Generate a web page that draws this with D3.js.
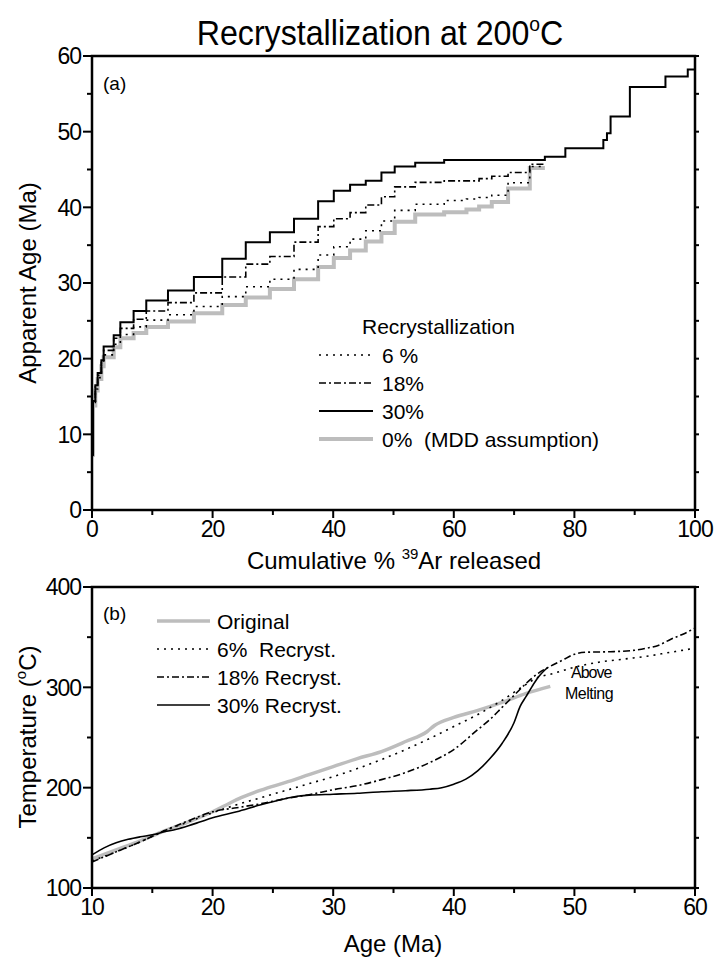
<!DOCTYPE html>
<html>
<head>
<meta charset="utf-8">
<script src="https://cdn.jsdelivr.net/npm/d3@7/dist/d3.min.js"></script>
<style>
  body { margin: 0; background: #fff; }
  svg text { font-family: "Liberation Sans", Arial, sans-serif; fill: #000; white-space: pre; }
</style>
</head>
<body>
<div id="chart-container"></div>
<script>
/**************************************************
 * Data
 **************************************************/

// (a) step boundaries, cumulative % 39Ar
const stepEdges = [0, 0.17, 0.55, 0.94, 1.55, 1.93, 3.6, 4.7, 6.9, 9.0, 12.6, 16.9, 21.6, 25.5,
  29.5, 33.5, 37.5, 40.1, 42.8, 45.4, 48.0, 50.2, 53.6, 58.4, 62.1, 64.2, 66.3, 69.0, 72.6, 75.1,
  78.5, 84.8, 85.4, 86.0, 89.2, 95.1, 98.8, 100];

// apparent age of each step (Ma)
const age30 = [7.3, 14.4, 16.5, 18.1, 19.8, 21.6, 23.1, 24.8, 26.3, 27.7, 29.0, 30.8, 33.2, 35.4,
  36.7, 38.5, 40.8, 42.2, 43.0, 43.5, 44.6, 45.4, 45.9, 46.25, 46.25, 46.25, 46.25, 46.25, 46.25,
  46.7, 47.8, 48.9, 49.8, 52.0, 55.9, 57.3, 58.2];
const age18 = [7.3, 14.2, 16.3, 17.8, 19.5, 21.1, 22.7, 24.0, 25.2, 26.3, 27.4, 28.7, 30.8, 32.5,
  33.5, 35.4, 37.45, 38.5, 39.3, 40.3, 41.4, 42.7, 43.3, 43.5, 43.5, 43.8, 44.1, 44.6, 45.7];
const age6 = [7.3, 14.0, 16.0, 17.5, 19.2, 20.5, 21.9, 23.2, 24.2, 25.1, 25.8, 26.9, 28.2, 29.5,
  30.5, 31.8, 33.7, 34.8, 35.8, 36.9, 38.2, 39.6, 40.4, 40.9, 41.1, 41.3, 41.6, 43.25, 45.4];
const age0 = [7.3, 13.8, 15.8, 17.3, 19.0, 20.2, 21.5, 22.7, 23.4, 24.2, 24.9, 26.0, 27.1, 28.1,
  29.2, 30.5, 32.1, 33.3, 34.3, 35.5, 36.6, 38.1, 39.05, 39.35, 39.7, 40.1, 40.7, 42.5, 45.2];

const legendA = ["6 %", "18%", "30%", "0%  (MDD assumption)"];
const ticksA_x = [0, 20, 40, 60, 80, 100];
const ticksA_y = [0, 10, 20, 30, 40, 50, 60];

// (b) temperature histories [age Ma, T °C]
const tOriginal = [[10, 129], [12, 138], [14, 147], [16, 157], [18, 166], [20, 176], [21, 182],
  [22, 188], [23, 193], [24, 197.5], [26, 205], [28, 213], [30, 221], [32, 229], [34, 236],
  [36, 246], [37.8, 256], [38.4, 262], [40, 270], [42, 277], [44, 285], [46, 294], [48, 301]];
const t6 = [[10, 127], [12, 136], [14, 146], [16, 157], [18, 166], [20, 175], [22, 183], [24, 190],
  [26, 197], [28, 204], [30, 211], [32, 219], [34, 228], [36, 238], [38, 249], [40, 261], [42, 273],
  [44, 287], [46, 303], [47, 310], [48, 313], [50, 320], [52, 325], [54, 328], [56, 331], [58, 335],
  [60, 339]];
const t18 = [[10, 126], [12, 136], [14, 146], [16, 157], [18, 167], [20, 176], [22, 180], [24, 184],
  [26, 189], [28, 193], [30, 198], [32, 202], [34, 208], [36, 215], [38, 225], [40, 238], [42, 258],
  [43, 268], [44, 280], [45, 292], [46, 304], [47, 314], [48, 321], [49, 327], [50, 333], [51, 335],
  [53, 335.5], [55, 337], [56, 339], [57, 342], [58, 348], [59, 353], [60, 359]];
const t30 = [[10, 133], [11, 140], [12, 145], [13, 148.5], [14, 151], [15, 153], [16, 156],
  [17, 158.5], [18, 162], [19, 166], [20, 170], [22, 176], [24, 183], [26, 189], [27, 191.5],
  [28, 192.5], [30, 193.5], [32, 194.5], [34, 196], [36, 197], [38, 198.5], [39, 200], [40, 203.5],
  [41, 208.5], [42, 217], [43, 229], [44, 244], [45, 265], [45.5, 281], [46, 291], [46.5, 301],
  [47, 310], [47.8, 320]];

const legendB = ["Original", "6%  Recryst.", "18% Recryst.", "30% Recryst."];
const ticksB_x = [10, 20, 30, 40, 50, 60];
const ticksB_y = [100, 200, 300, 400];

/**************************************************
 * Styles
 **************************************************/

const styles = {
  gray:   { stroke: "#bdbdbd", width: 4,   dash: null },
  dotted: { stroke: "#000",    width: 1.6, dash: "2,5" },
  dashed: { stroke: "#000",    width: 1.6, dash: "7,3,2,3" },
  solid:  { stroke: "#000",    width: 2,   dash: null }
};

/**************************************************
 * Rendering
 **************************************************/

const W = 717, H = 968;
const svg = d3.select("#chart-container").append("svg")
  .attr("width", W).attr("height", H);

// title (slightly condensed like the original face)
const title = svg.append("text")
  .attr("transform", "translate(380,45) scale(0.92,1)")
  .attr("text-anchor", "middle")
  .attr("font-size", "35px");
title.append("tspan").text("Recrystallization at 200");
title.append("tspan").attr("font-size", "21px").attr("dy", -14).text("o");
title.append("tspan").attr("dy", 14).text("C");

function drawFrame(g, x, y, xTicks, yTicks, xMinor, yMinor) {
  const [x0, x1] = x.range();
  const [y0, y1] = y.range();
  yMinor.forEach(v => {
    g.append("line").attr("x1", x0).attr("x2", x0 - 5).attr("y1", y(v)).attr("y2", y(v))
      .attr("stroke", "#000").attr("stroke-width", 2);
    g.append("line").attr("x1", x1).attr("x2", x1 + 4).attr("y1", y(v)).attr("y2", y(v))
      .attr("stroke", "#000").attr("stroke-width", 2);
  });
  yTicks.forEach(v => {
    g.append("line").attr("x1", x0).attr("x2", x0 - 9).attr("y1", y(v)).attr("y2", y(v))
      .attr("stroke", "#000").attr("stroke-width", 2);
    g.append("line").attr("x1", x1).attr("x2", x1 + 4).attr("y1", y(v)).attr("y2", y(v))
      .attr("stroke", "#000").attr("stroke-width", 2);
    g.append("text").attr("x", x0 - 11).attr("y", y(v)).attr("dy", "0.36em")
      .attr("text-anchor", "end").attr("font-size", "23px").attr("letter-spacing", "-1px").text(v);
  });
  xMinor.forEach(v => {
    g.append("line").attr("x1", x(v)).attr("x2", x(v)).attr("y1", y0).attr("y2", y0 + 5)
      .attr("stroke", "#000").attr("stroke-width", 2);
  });
  xTicks.forEach(v => {
    g.append("line").attr("x1", x(v)).attr("x2", x(v)).attr("y1", y0).attr("y2", y0 + 8)
      .attr("stroke", "#000").attr("stroke-width", 2);
    g.append("text").attr("x", x(v)).attr("y", y0 + 27)
      .attr("text-anchor", "middle").attr("font-size", "23px").attr("letter-spacing", "-1px").text(v);
  });
  g.append("rect").attr("x", x0).attr("y", y1).attr("width", x1 - x0).attr("height", y0 - y1)
    .attr("fill", "none").attr("stroke", "#000").attr("stroke-width", 2.5);
}

function applyStyle(sel, s) {
  sel.attr("fill", "none").attr("stroke", s.stroke).attr("stroke-width", s.width);
  if (s.dash) sel.attr("stroke-dasharray", s.dash);
  return sel;
}

/* ---------- panel (a) ---------- */
const xa = d3.scaleLinear().domain([0, 100]).range([92, 695]);
const ya = d3.scaleLinear().domain([0, 60]).range([510, 56]);
const ga = svg.append("g");

function stepPoints(ages) {
  const pts = ages.map((a, i) => [stepEdges[i], a]);
  pts.push([stepEdges[ages.length], ages[ages.length - 1]]);
  return pts;
}
const stepLine = d3.line().x(d => xa(d[0])).y(d => ya(d[1])).curve(d3.curveStepAfter);

[[age0, styles.gray], [age6, styles.dotted], [age18, styles.dashed], [age30, styles.solid]]
  .forEach(([ages, s]) => {
    applyStyle(ga.append("path").attr("d", stepLine(stepPoints(ages))), s);
  });

drawFrame(ga, xa, ya, ticksA_x, ticksA_y,
  d3.range(10, 100, 20), d3.range(5, 60, 10));

ga.append("text").attr("x", 103).attr("y", 90).attr("font-size", "19px").text("(a)");

// legend (a)
ga.append("text").attr("x", 362).attr("y", 334).attr("font-size", "21px").text("Recrystallization");
const legA = [styles.dotted, styles.dashed, styles.solid, styles.gray];
legendA.forEach((d, i) => {
  const yy = 355 + i * 28;
  applyStyle(ga.append("line").attr("x1", 319).attr("x2", 373).attr("y1", yy).attr("y2", yy), legA[i]);
  ga.append("text").attr("x", 382).attr("y", yy).attr("dy", "0.36em").attr("font-size", "21px").text(d);
});

// x label (a)
const xla = ga.append("text").attr("x", 394).attr("y", 569)
  .attr("text-anchor", "middle").attr("font-size", "24px");
xla.append("tspan").text("Cumulative % ");
xla.append("tspan").attr("font-size", "15px").attr("dy", -10).text("39");
xla.append("tspan").attr("dy", 10).text("Ar released");

ga.append("text").attr("transform", "translate(36,283) rotate(-90)")
  .attr("text-anchor", "middle").attr("font-size", "24px").text("Apparent Age (Ma)");

/* ---------- panel (b) ---------- */
const xb = d3.scaleLinear().domain([10, 60]).range([92, 695]);
const yb = d3.scaleLinear().domain([100, 400]).range([888, 587]);
const gb = svg.append("g");

const smooth = d3.line().x(d => xb(d[0])).y(d => yb(d[1])).curve(d3.curveMonotoneX);

[[tOriginal, styles.gray], [t6, styles.dotted], [t18, styles.dashed], [t30, styles.solid]]
  .forEach(([pts, s]) => {
    const p = applyStyle(gb.append("path").attr("d", smooth(pts)), s);
    if (s === styles.solid) p.attr("stroke-width", 1.6);
    if (s === styles.gray) p.attr("stroke-width", 3.5);
  });

drawFrame(gb, xb, yb, ticksB_x, ticksB_y,
  d3.range(15, 60, 10), d3.range(150, 400, 100));

gb.append("text").attr("x", 103).attr("y", 620).attr("font-size", "19px").text("(b)");

const legB = [styles.gray, styles.dotted, styles.dashed, styles.solid];
legendB.forEach((d, i) => {
  const yy = 621 + i * 28;
  const l = applyStyle(gb.append("line").attr("x1", 157).attr("x2", 210).attr("y1", yy).attr("y2", yy), legB[i]);
  if (i === 0) l.attr("stroke-width", 3.5);
  if (i === 3) l.attr("stroke-width", 1.6);
  gb.append("text").attr("x", 217).attr("y", yy).attr("dy", "0.36em").attr("font-size", "21px").text(d);
});

gb.append("text").attr("x", 571).attr("y", 678).attr("font-size", "16px")
  .attr("letter-spacing", "-1px").text("Above");
gb.append("text").attr("x", 565).attr("y", 699).attr("font-size", "16px")
  .attr("letter-spacing", "-0.5px").text("Melting");

gb.append("text").attr("x", 393).attr("y", 952)
  .attr("text-anchor", "middle").attr("font-size", "24px").text("Age (Ma)");

const ylb = gb.append("text").attr("transform", "translate(36,737) rotate(-90)")
  .attr("text-anchor", "middle").attr("font-size", "24px");
ylb.append("tspan").text("Temperature (");
ylb.append("tspan").attr("font-size", "15px").attr("dy", -10).text("o");
ylb.append("tspan").attr("dy", 10).text("C)");
</script>
</body>
</html>
